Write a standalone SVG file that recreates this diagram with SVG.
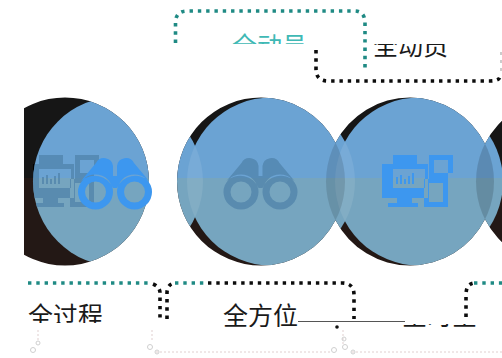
<svg xmlns="http://www.w3.org/2000/svg" width="502" height="358" viewBox="0 0 502 358">
<style>
.dot{fill:none;stroke-width:3.6;stroke-dasharray:3.4 4.9}
.teal{stroke:#1f8a84}.blk{stroke:#0c0c0c}
.t{font-family:"Liberation Sans","Noto Sans CJK SC",sans-serif;font-size:25px}
.faint{fill:none;stroke:#e0cfcf;stroke-width:1;stroke-dasharray:2 2}
.ring{fill:none;stroke:#cfcfcf;stroke-width:1}
.gray{fill:#4d80a8;fill-opacity:.7}
.bright{fill:#3d97ef}
.blue{fill:url(#g)}
</style>
<defs>
<linearGradient id="g" gradientUnits="userSpaceOnUse" x1="0" y1="90" x2="0" y2="270"><stop offset="0.489" stop-color="#6ba3d3"/><stop offset="0.489" stop-color="#76a5bf"/></linearGradient>
<clipPath id="u"><circle cx="65" cy="181.5" r="84"/><circle cx="261" cy="181.5" r="84"/><circle cx="410" cy="181.5" r="84"/><circle cx="560" cy="181.5" r="84"/></clipPath>
<clipPath id="v"><rect x="24" y="0" width="478" height="358"/></clipPath>
<clipPath id="c3"><circle cx="410" cy="181.5" r="84"/></clipPath>
<clipPath id="c2"><circle cx="261" cy="181.5" r="84"/></clipPath>
<clipPath id="b1"><circle cx="118" cy="181.5" r="85"/></clipPath>
<clipPath id="b2"><circle cx="271" cy="181.5" r="84"/></clipPath>
<clipPath id="ctop"><rect x="0" y="0" width="502" height="44"/></clipPath>
<clipPath id="cmid"><rect x="0" y="44" width="502" height="40"/></clipPath>
<clipPath id="cb1"><rect x="0" y="300" width="502" height="23"/></clipPath>
<clipPath id="cb2"><rect x="0" y="300" width="502" height="27"/></clipPath>
<clipPath id="cb3"><rect x="0" y="324" width="502" height="4.5"/></clipPath>
<symbol id="bino" overflow="visible"><path fill-rule="evenodd" d="M0 0a17.5 17.500 0 0 0 35 0a17.500 17.500 0 0 0-35 0zM7 0a10.500 10.500 0 0 1 21 0a10.500 10.500 0 0 1-21 0zM39 0a17.500 17.500 0 0 0 35 0a17.500 17.500 0 0 0-35 0zM46 0a10.500 10.500 0 0 1 21 0a10.500 10.500 0 0 1-21 0zM3 -11L18 -29a9 9 0 0 1 17 3V-16H39V-26a9 9 0 0 1 17-3L71 -11A20 20 0 0 0 39 -4H35A20 20 0 0 0 3 -11z"/></symbol>
<symbol id="comp" overflow="visible"><path fill-rule="evenodd" d="M0 9H11V0H35V9H46V43H30V48H36V52H6V48H15V43H0zM11 14V33H43V14zM42 24H47V0H71V18H66V52H42zM47 28V47H61V28zM52 5V18H66V5z"/><path d="M14 29h2v-7h-2zM18 29h2v-9h-2zM22 29h2v-5h-2zM26 29h2v-8h-2zM30 29h2v-11h-2z"/></symbol>
</defs>
<rect width="502" height="358" fill="#fff"/>
<g id="circles" clip-path="url(#v)">
<g clip-path="url(#u)">
<rect x="0" y="90" width="502" height="88" fill="#161616"/>
<rect x="0" y="178" width="502" height="92" fill="#231815"/>
<rect x="33" y="164" width="5" height="14" fill="#000"/>
<circle class="blue" cx="118" cy="181.5" r="85"/>
<circle class="blue" cx="271" cy="181.5" r="84"/>
<circle class="blue" cx="419" cy="181.5" r="84"/>
<g clip-path="url(#b2)"><circle cx="118" cy="181.5" r="85" fill="#fff" fill-opacity=".09"/><circle cx="419" cy="181.5" r="84" fill="#fff" fill-opacity=".09"/></g>
<g clip-path="url(#c2)"><circle cx="410" cy="181.5" r="84" fill="#000" fill-opacity=".12"/></g>
<g clip-path="url(#c3)"><circle cx="560" cy="181.5" r="84" fill="#000" fill-opacity=".15"/></g>
</g>
</g>
<g id="node-icon-1"><g clip-path="url(#b1)"><use href="#comp" x="28" y="155" class="gray"/></g><use href="#bino" x="78" y="192" class="bright"/></g>
<g id="node-icon-2"><use href="#bino" x="223.500" y="192" class="gray"/></g>
<g id="node-icon-3"><use href="#comp" x="382" y="155" class="bright"/></g>
<g id="connectors">
<path class="dot teal" d="M175.500 43V23Q175.500 11 187 11H354Q365 11 365 23V68"/>
<path class="dot blk" d="M316 50V69Q316 81 328 81H490Q500 81 500 76"/>
<path d="M501 52V72" stroke="#ccc" stroke-width="2" stroke-dasharray="3 5" fill="none"/>
<path class="dot teal" d="M28 283H150"/>
<path class="dot blk" d="M153 284Q160 287 160 293V319"/>
<path class="dot blk" d="M167 319V293Q167 284 175 283"/>
<path class="dot teal" d="M175 283H208"/>
<path class="dot blk" d="M208 283H342Q354 283 354 295V319"/>
<path class="dot blk" d="M466 317V295Q466 284 474 283"/>
<path class="dot teal" d="M474 283H502"/>
<path d="M298 321.500H350M350 321.500H405" stroke="#555" stroke-width="1" fill="none"/>
<circle cx="337" cy="327" r="1.800" fill="#111"/>
</g>
<g id="node-top-teal"><text class="t" x="232" y="55" fill="#3fb9b5" clip-path="url(#ctop)">全动员</text></g>
<g id="node-top-black"><text class="t" x="373" y="55" fill="#1a1a1a" clip-path="url(#cmid)">全动员</text></g>
<g id="node-left"><text class="t" x="28" y="325" fill="#1a1a1a" clip-path="url(#cb1)">全过程</text></g>
<g id="node-mid"><text class="t" x="223" y="325" fill="#1a1a1a" clip-path="url(#cb2)">全方位</text></g>
<g id="node-right"><text class="t" x="402" y="325" fill="#1a1a1a" clip-path="url(#cb3)">全时空</text></g>
<g id="faint">
<path class="faint" d="M156 352H332M352 352H502"/>
<path class="faint" d="M38 330V342M152 330V342M343 330V345"/>
<circle class="ring" cx="38" cy="343" r="2"/><circle class="ring" cx="33" cy="350" r="2.500"/>
<circle class="ring" cx="150" cy="347" r="2.500"/><circle class="ring" cx="157" cy="352" r="2"/>
<circle class="ring" cx="344" cy="339" r="2"/><circle class="ring" cx="334" cy="350" r="2.500"/><circle class="ring" cx="345" cy="347" r="2.500"/><circle class="ring" cx="353" cy="352" r="2"/>
</g>
</svg>
